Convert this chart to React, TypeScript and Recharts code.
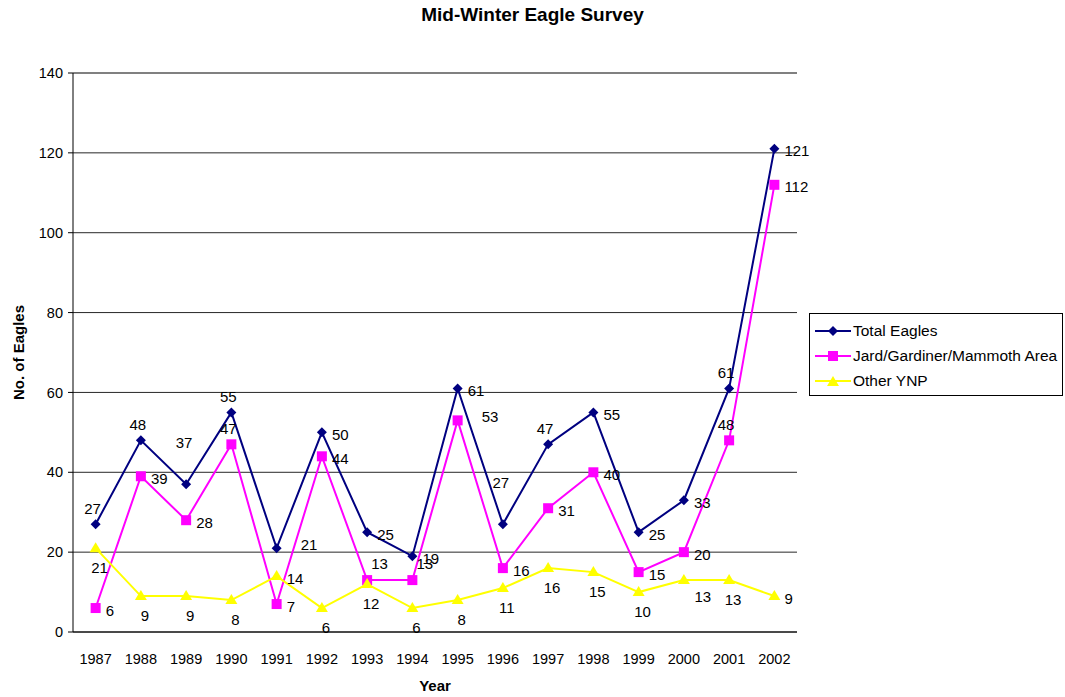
import { CartesianGrid, LabelList, Legend, Line, LineChart, ReferenceLine, XAxis, YAxis } from 'recharts';

const years = ['1987', '1988', '1989', '1990', '1991', '1992', '1993', '1994', '1995', '1996', '1997', '1998', '1999', '2000', '2001', '2002'];
const totalEagles = [27, 48, 37, 55, 21, 50, 25, 19, 61, 27, 47, 55, 25, 33, 61, 121];
const jardArea = [6, 39, 28, 47, 7, 44, 13, 13, 53, 16, 31, 40, 15, 20, 48, 112];
const otherYnp = [21, 9, 9, 8, 14, 6, 12, 6, 8, 11, 16, 15, 10, 13, 13, 9];
const yTicks = [0, 20, 40, 60, 80, 100, 120, 140];
// tick marks fall on the category boundaries, Excel style
const boundaryTicks = [...years.map((_, i) => i), years.length];

// where each data label sits relative to its point (as in the original sheet)
const totalPlace = ['above', 'above', 'farAbove', 'above', 'farRight', 'right', 'right', 'right', 'right', 'farAbove', 'above', 'right', 'right', 'right', 'above', 'right'];
const jardPlace = ['right', 'right', 'right', 'above', 'right', 'right', 'aboveRight', 'aboveRight', 'farRight', 'right', 'right', 'right', 'right', 'right', 'above', 'right'];
const otherPlace = ['below', 'below', 'below', 'below', 'right', 'below', 'below', 'below', 'below', 'below', 'below', 'below', 'below', 'belowRight', 'below', 'right'];

const data = years.map((year, i) => ({
  year,
  total: totalEagles[i],
  jard: jardArea[i],
  other: otherYnp[i],
}));

const FONT = '"Liberation Sans", Arial, sans-serif';
const NAVY = '#000080';
const MAGENTA = '#FF00FF';
const YELLOW = '#FFFF00';

const Diamond = ({ cx, cy }: any) =>
  cx == null ? null : <path d={`M${cx},${cy - 5}L${cx + 5},${cy}L${cx},${cy + 5}L${cx - 5},${cy}Z`} fill={NAVY} />;
const Square = ({ cx, cy }: any) =>
  cx == null ? null : <rect x={cx - 5} y={cy - 5} width={10} height={10} fill={MAGENTA} />;
const Triangle = ({ cx, cy }: any) =>
  cx == null ? null : <path d={`M${cx},${cy - 6}L${cx + 6},${cy + 4}L${cx - 6},${cy + 4}Z`} fill={YELLOW} />;

const offsets: Record<string, [number, number, 'start' | 'middle']> = {
  right: [10, 2, 'start'],
  farRight: [24, -4, 'start'],
  above: [-3, -16, 'middle'],
  farAbove: [-2, -42, 'middle'],
  aboveRight: [4, -17, 'start'],
  below: [4, 19, 'middle'],
  belowRight: [19, 16, 'middle'],
};

const makeLabel = (place: string[]) => (props: any) => {
  const { index, value } = props;
  const x = props.x ?? props.viewBox?.x;
  const y = props.y ?? props.viewBox?.y;
  if (x == null || y == null) return null;
  const [dx, dy, anchor] = offsets[place[index]] ?? offsets.right;
  return (
    <text x={x + dx} y={y + dy} textAnchor={anchor} dominantBaseline="central" fontSize={15} fontFamily={FONT} fill="#000">
      {value}
    </text>
  );
};

const YearTick = ({ x, y, payload }: any) => (
  <text x={x} y={y + 19} textAnchor="middle" fontSize={14.5} fontFamily={FONT} fill="#000">
    {payload.value}
  </text>
);

const legendItems = [
  { name: 'Total Eagles', color: NAVY, shape: 'diamond' },
  { name: 'Jard/Gardiner/Mammoth Area', color: MAGENTA, shape: 'square' },
  { name: 'Other YNP', color: YELLOW, shape: 'triangle' },
];

const LegendBox = () => (
  <div style={{ border: '1px solid #000', background: '#fff', padding: '4px 0 2px 5px', fontFamily: FONT, fontSize: 15.5 }}>
    {legendItems.map((item) => (
      <div key={item.name} style={{ display: 'flex', alignItems: 'center', height: 25 }}>
        <svg width={36} height={14} style={{ marginRight: 2, flex: 'none' }}>
          <line x1={0} x2={36} y1={7} y2={7} stroke={item.color} strokeWidth={2} />
          {item.shape === 'diamond' && <Diamond cx={18} cy={7} />}
          {item.shape === 'square' && <Square cx={18} cy={7} />}
          {item.shape === 'triangle' && <Triangle cx={18} cy={8} />}
        </svg>
        <span style={{ whiteSpace: 'nowrap' }}>{item.name}</span>
      </div>
    ))}
  </div>
);

export default function App() {
  return (
    <div style={{ position: 'absolute', left: 0, top: 0, width: 1065, height: 697, background: '#fff', fontFamily: FONT }}>
      <div style={{ position: 'absolute', top: 4, left: 0, width: 1065, textAlign: 'center', fontWeight: 'bold', fontSize: 19 }}>
        Mid-Winter Eagle Survey
      </div>
      <LineChart width={1065} height={697} data={data} margin={{ top: 73, right: 268, bottom: 35, left: 0 }}>
        <CartesianGrid vertical={false} stroke="#000" strokeOpacity={0.85} />
        <ReferenceLine y={140} stroke="#808080" strokeWidth={2} />
        <XAxis
          xAxisId="edges"
          type="number"
          domain={[0, years.length]}
          ticks={boundaryTicks}
          interval={0}
          height={0}
          tick={false}
          axisLine={false}
          tickLine={{ stroke: '#000' }}
          tickSize={5}
        />
        <XAxis
          dataKey="year"
          scale="band"
          height={30}
          axisLine={{ stroke: '#000' }}
          tickLine={false}
          tickSize={5}
          tickMargin={8}
          interval={0}
          tick={<YearTick />}
          label={{ value: 'Year', position: 'insideBottom', offset: -29, fontWeight: 'bold', fontSize: 15, fill: '#000', fontFamily: FONT }}
        />
        <YAxis
          width={73}
          domain={[0, 140]}
          ticks={yTicks}
          interval={0}
          axisLine={{ stroke: '#000' }}
          tickLine={{ stroke: '#000' }}
          tickSize={5}
          tickMargin={5}
          tick={{ fill: '#000', fontSize: 14.5, fontFamily: FONT }}
          label={(p: any) => {
            const vb = p.viewBox;
            const cx = 18;
            const cy = vb.y + vb.height / 2;
            return (
              <text x={cx} y={cy} transform={`rotate(-90, ${cx}, ${cy})`} textAnchor="middle" dominantBaseline="central" fontWeight="bold" fontSize={15} fontFamily={FONT} fill="#000">
                No. of Eagles
              </text>
            );
          }}
        />
        <YAxis yAxisId="border" orientation="right" width={0} domain={[0, 140]} tick={false} tickLine={false} axisLine={{ stroke: '#808080', strokeWidth: 2 }} />
        <Legend layout="vertical" align="center" verticalAlign="middle" wrapperStyle={{ left: 809, top: 313, width: 254 }} content={<LegendBox />} />
        <Line dataKey="total" name="Total Eagles" stroke={NAVY} strokeWidth={2} dot={<Diamond />} activeDot={false} isAnimationActive={false}>
          <LabelList dataKey="total" content={makeLabel(totalPlace)} />
        </Line>
        <Line dataKey="jard" name="Jard/Gardiner/Mammoth Area" stroke={MAGENTA} strokeWidth={2} dot={<Square />} activeDot={false} isAnimationActive={false}>
          <LabelList dataKey="jard" content={makeLabel(jardPlace)} />
        </Line>
        <Line dataKey="other" name="Other YNP" stroke={YELLOW} strokeWidth={2} dot={<Triangle />} activeDot={false} isAnimationActive={false}>
          <LabelList dataKey="other" content={makeLabel(otherPlace)} />
        </Line>
      </LineChart>
    </div>
  );
}
